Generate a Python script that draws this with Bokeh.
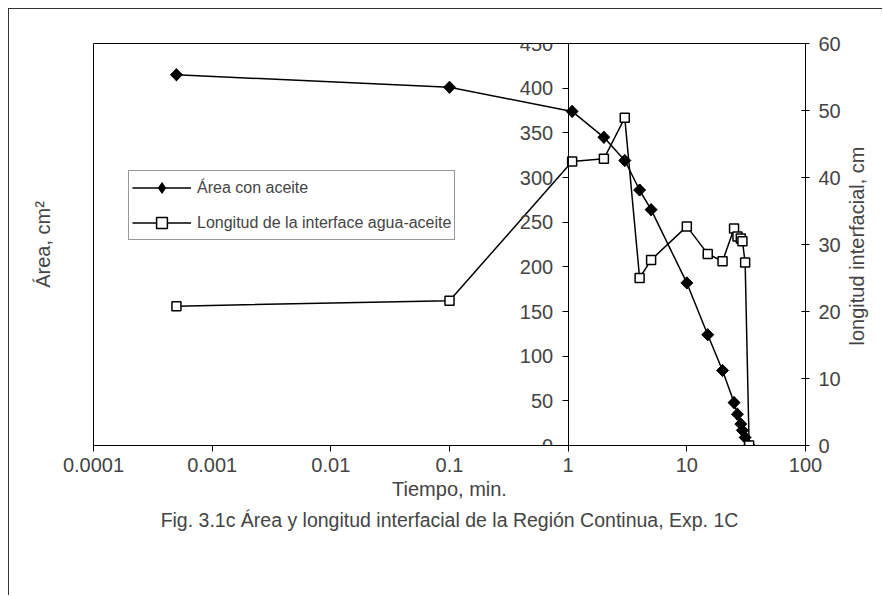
from math import pi
from bokeh.plotting import figure
from bokeh.models import Range1d, LinearAxis, FixedTicker, Legend, LegendItem, Title
from bokeh.embed import file_html
from bokeh.resources import INLINE

# ---- data ----
tiempo = [0.0005, 0.1, 1.08, 2, 3, 4, 5, 10, 15, 20, 25, 26.7, 28.5, 29.4, 31, 33.5]
area = [415, 401, 374, 345, 319, 286, 264, 182, 124, 84, 48, 35, 24, 17, 9, 0]
longitud = [20.8, 21.6, 42.4, 42.8, 48.9, 25.0, 27.7, 32.7, 28.6, 27.5, 32.4, 31.2, 30.9, 30.5, 27.3, 0]

x_ticks = [0.0001, 0.001, 0.01, 0.1, 1, 10, 100]
x_tick_labels = ["0.0001", "0.001", "0.01", "0.1", "1", "10", "100"]
y_left_ticks = [0, 50, 100, 150, 200, 250, 300, 350, 400, 450]
y_right_ticks = [0, 10, 20, 30, 40, 50, 60]

serie_area = "Área con aceite"
serie_long = "Longitud de la interface agua-aceite"
x_title = "Tiempo, min."
y_left_title = "Área, cm²"
y_right_title = "longitud interfacial, cm"
caption = "Fig. 3.1c Área y longitud interfacial de la Región Continua, Exp. 1C"

FONT = "Liberation Sans"
FS = "20px"
FS_CAP = "19.5px"
FS_LEG = "16px"

p = figure(width=874, height=587, x_axis_type="log", y_axis_location=None,
           x_range=Range1d(1e-4, 100), y_range=Range1d(0, 450),
           output_backend="svg", toolbar_location=None,
           min_border_left=84, min_border_right=78,
           min_border_top=34, min_border_bottom=151,
           background_fill_color="white", border_fill_color="white")
p.styles = {"margin-left": "8px", "margin-top": "8px",
            "border-left": "1px solid #333", "border-top": "1px solid #333"}
p.extra_y_ranges = {"right": Range1d(0, 60)}
p.xgrid.visible = False
p.ygrid.visible = False
p.outline_line_color = "black"
p.outline_line_width = 1

# x axis
xa = p.xaxis[0]
xa.ticker = FixedTicker(ticks=x_ticks)
xa.major_label_overrides = dict(zip(x_ticks, x_tick_labels))
xa.minor_tick_line_color = None
xa.major_tick_in = 0
xa.major_tick_out = 6
xa.major_label_standoff = 6
xa.axis_label = x_title
xa.axis_label_standoff = 3
xa.major_label_text_font = FONT
xa.major_label_text_font_size = FS
xa.axis_label_text_font = FONT
xa.axis_label_text_font_size = FS
xa.axis_label_text_font_style = "normal"
xa.axis_line_color = "black"
xa.major_tick_line_color = "black"

# left-axis title (in the left panel, next to the plot frame)
ylt = LinearAxis(ticker=FixedTicker(ticks=[]), axis_line_color=None,
                 major_tick_line_color=None, minor_tick_line_color=None,
                 major_label_text_font_size="0px",
                 axis_label=y_left_title, axis_label_standoff=40,
                 axis_label_text_font=FONT, axis_label_text_font_size=FS,
                 axis_label_text_font_style="normal")
p.add_layout(ylt, "left")

# left value axis drawn at x = 1
ya = LinearAxis(fixed_location=1, ticker=FixedTicker(ticks=y_left_ticks),
                minor_tick_line_color=None, major_tick_in=0, major_tick_out=6,
                major_label_standoff=9, major_label_text_font=FONT,
                major_label_text_font_size=FS, axis_line_color="black")
p.add_layout(ya, "left")

# right axis
yr = LinearAxis(y_range_name="right", ticker=FixedTicker(ticks=y_right_ticks),
                major_tick_in=4, major_tick_out=4, major_label_standoff=9,
                minor_tick_line_color=None,
                major_label_text_font=FONT, major_label_text_font_size=FS)
p.add_layout(yr, "right")

yrt = LinearAxis(y_range_name="right", ticker=FixedTicker(ticks=[]), axis_line_color=None,
                 major_tick_line_color=None, minor_tick_line_color=None,
                 major_label_text_font_size="0px",
                 axis_label=y_right_title, axis_label_standoff=13,
                 axis_label_text_font=FONT, axis_label_text_font_size=FS,
                 axis_label_text_font_style="normal")
props = LinearAxis.properties()
if "axis_label_orientation" in props and "axis_label_align" in props:
    try:
        yrt.axis_label_align = "start"
        yrt.axis_label_orientation = pi / 2
        yrt.axis_label = "\u00a0" * 18 + y_right_title
    except Exception:
        pass
p.add_layout(yrt, "right")

# series
l1 = p.line(tiempo, area, line_color="black", line_width=1.5)
# diamond glyph used for the legend entry (hidden underneath the data markers)
s1_leg = p.scatter(tiempo, area, marker="diamond", size=12,
                   fill_color="black", line_color="black", line_width=1)
s1 = p.scatter(tiempo, area, marker="square", angle=pi / 4, size=8.5,
               fill_color="black", line_color="black", line_width=1)
l2 = p.line(tiempo, longitud, line_color="black", line_width=1.5, y_range_name="right")
s2 = p.scatter(tiempo, longitud, marker="square", size=9, fill_color="white",
               line_color="black", line_width=1.5, y_range_name="right")

legend = Legend(items=[LegendItem(label=serie_area, renderers=[l1, s1_leg]),
                       LegendItem(label=serie_long, renderers=[l2, s2])],
                location=(35, 205), border_line_color="#333", border_line_width=1,
                padding=3, spacing=8, glyph_width=59, glyph_height=27,
                label_height=20, label_standoff=6,
                label_text_font=FONT, label_text_font_size=FS_LEG,
                background_fill_color="white", background_fill_alpha=1)
p.add_layout(legend)

# caption under the axis title
p.add_layout(Title(text=caption, align="center", text_font=FONT, text_font_size=FS_CAP,
                   text_font_style="normal", standoff=9), "below")

open("out.html", "w").write(file_html(p, INLINE))
